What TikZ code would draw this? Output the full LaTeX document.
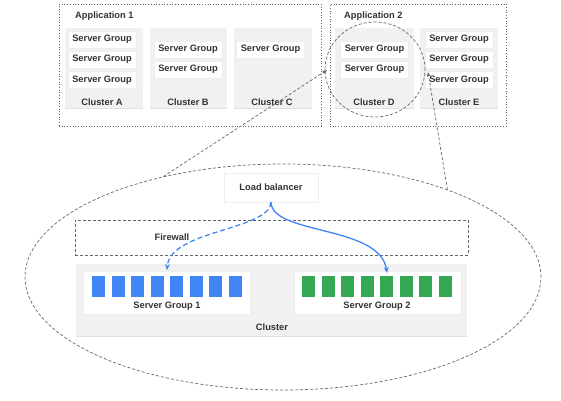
\documentclass[tikz,border=0pt]{standalone}
\usepackage{fontspec}
\setmainfont{Liberation Sans}
\usetikzlibrary{shadows,arrows.meta,shapes.geometric}
\definecolor{txt}{HTML}{333333}
\definecolor{clgray}{HTML}{F1F1F1}
\definecolor{lgray}{HTML}{666666}
\definecolor{gblue}{HTML}{4285F4}
\definecolor{ggreen}{HTML}{34A853}
\tikzset{
  lbl/.style={font=\fontsize{9.3}{10}\selectfont\bfseries, text=txt, inner sep=0pt},
  wbox/.style={fill=white, draw=black!7, line width=0.5pt, inner sep=0pt, drop shadow={shadow xshift=0pt, shadow yshift=-0.9pt, opacity=0.15, fill=black}},
  sgbox/.style={wbox, lbl, minimum width=68pt, minimum height=17pt},
  clbox/.style={fill=clgray, inner sep=0pt, minimum height=80pt, drop shadow={shadow xshift=0pt, shadow yshift=-0.9pt, opacity=0.12, fill=black}},
  appbox/.style={draw=lgray, dotted, line width=0.7pt, inner sep=0pt},
  gdash/.style={draw=lgray, dash pattern=on 3pt off 2pt, line width=0.7pt},
  garrow/.style={gdash, -{Stealth[length=5pt,width=4pt]}},
  barb/.style={fill=gblue, minimum width=13pt, minimum height=21pt, inner sep=0pt},
  barg/.style={fill=ggreen, minimum width=13pt, minimum height=21pt, inner sep=0pt},
  barrow/.style={draw=gblue, line width=1.3pt, -{Stealth[length=6pt,width=5pt]}},
}
\begin{document}
\begin{tikzpicture}[x=1pt,y=-1pt]
\useasboundingbox (0,0) rectangle (561,400);

% Application boxes
\node[appbox, minimum width=262pt, minimum height=122pt] (app1) at (190,65) {};
\node[appbox, minimum width=176pt, minimum height=122pt] (app2) at (418,65) {};
\node[lbl, anchor=west] (app1l) at (75,16) {Application 1};
\node[lbl, anchor=west] (app2l) at (344,16) {Application 2};

% Clusters
\node[clbox, minimum width=78pt] (cA) at (104,68) {};
\node[clbox, minimum width=77pt] (cB) at (188.5,68) {};
\node[clbox, minimum width=78pt] (cC) at (273,68) {};
\node[clbox, minimum width=79pt] (cD) at (374.5,68) {};
\node[clbox, minimum width=78pt] (cE) at (459,68) {};
\node[lbl] (cAl) at (102,102.5) {Cluster A};
\node[lbl] (cBl) at (188,102.5) {Cluster B};
\node[lbl] (cCl) at (272,102.5) {Cluster C};
\node[lbl] (cDl) at (374,102.5) {Cluster D};
\node[lbl] (cEl) at (459,102.5) {Cluster E};

% Server groups
\node[sgbox] (a1) at (102,39.5) {Server Group};
\node[sgbox] (a2) at (102,59.5) {Server Group};
\node[sgbox] (a3) at (102,80) {Server Group};
\node[sgbox] (b1) at (188,49.5) {Server Group};
\node[sgbox] (b2) at (188,69.5) {Server Group};
\node[sgbox] (c1) at (270.5,49.5) {Server Group};
\node[sgbox] (d1) at (374.5,49.5) {Server Group};
\node[sgbox] (d2) at (374.5,69.5) {Server Group};
\node[sgbox] (e1) at (459,39.5) {Server Group};
\node[sgbox] (e2) at (459,59.5) {Server Group};
\node[sgbox] (e3) at (459,80) {Server Group};

% circle around cluster D
\node[ellipse, gdash, minimum width=100pt, minimum height=95pt, inner sep=0pt] (dcirc) at (375,69.5) {};

% big ellipse
\node[ellipse, gdash, minimum width=516pt, minimum height=226pt, inner sep=0pt] (big) at (283,277) {};

% load balancer
\node[wbox, lbl, minimum width=94pt, minimum height=29pt] (lb) at (271,187.5) {Load balancer};

% firewall
\node[gdash, minimum width=393pt, minimum height=35pt, inner sep=0pt] (fw) at (271.5,237.5) {};
\node[lbl] (fwl) at (172,237) {Firewall};

% cluster
\node[fill=clgray, minimum width=391pt, minimum height=72pt, inner sep=0pt, drop shadow={shadow xshift=0pt, shadow yshift=-0.9pt, opacity=0.12, fill=black}] (cl) at (271.5,300) {};
\node[lbl] (cll) at (272,327) {Cluster};
\node[wbox, minimum width=167pt, minimum height=43pt] (sg1) at (166.5,292.5) {};
\node[wbox, minimum width=167pt, minimum height=43pt] (sg2) at (377.5,292.5) {};
\node[lbl] (sg1l) at (167,306) {Server Group 1};
\node[lbl] (sg2l) at (377,306) {Server Group 2};
\foreach \i in {0,...,7} {
  \node[barb] (bb\i) at ({98.5+19.57*\i},286.5) {};
  \node[barg] (gg\i) at ({308.5+19.57*\i},286.5) {};
}

% connectors
\coordinate (t1) at (327,70);
\coordinate (t2) at (428,72);
\draw[garrow] (big.140.7) -- (t1);
\draw[garrow] (big.28.5) -- (t2);

\coordinate (sg1t) at (167,270);
\coordinate (sg2t) at (387,273);
\draw[barrow] (lb.south) .. controls (272,235) and (380,225) .. (sg2t);
\draw[barrow, dash pattern=on 5pt off 3pt] (lb.south) .. controls (270,230) and (170,230) .. (sg1t);
\end{tikzpicture}
\end{document}
